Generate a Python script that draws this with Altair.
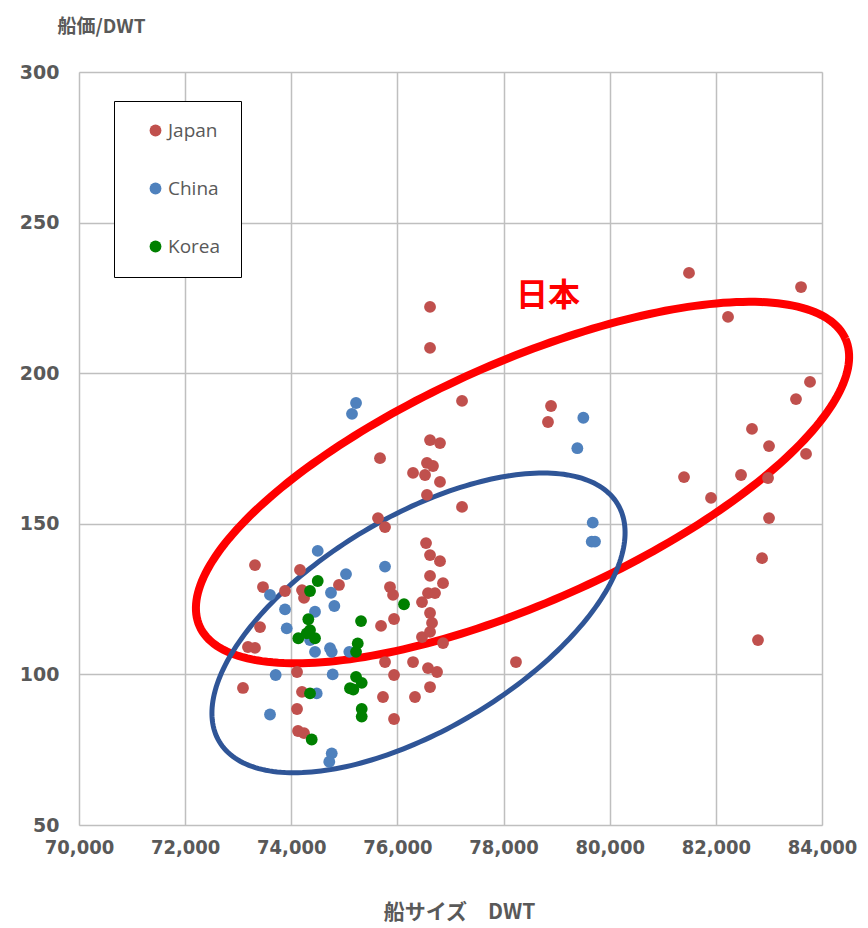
import altair as alt
import numpy as np
import pandas as pd

# ---------------- data ----------------
japan_x = [83605, 81494, 82229, 83774, 83510, 82681, 83002, 82474, 81400, 82983,
           83699, 81909, 83002, 82870, 82794, 76614, 76614, 77217, 78894, 78837,
           78234, 77217, 75672, 76614, 76802, 76294, 76557, 76670, 76520, 76802,
           76557, 75634, 75766, 76539, 76614, 76802, 76614, 76859, 76576, 76708,
           76463, 76614, 76652, 76463, 76614, 76859, 76294, 76576, 76746, 76614,
           76331, 75860, 75917, 75691, 75936, 75766, 75936, 75728, 75936, 73316,
           73467, 73411, 73184, 73316, 73090, 74164, 73882, 74202, 74240, 74899,
           74108, 74202, 74108, 74127, 74240]
japan_y = [228.6, 233.3, 218.7, 197.1, 191.4, 181.5, 175.8, 166.2, 165.5, 165.2,
           173.2, 158.6, 151.9, 138.6, 111.4, 222.0, 208.4, 190.8, 189.1, 183.8,
           104.1, 155.6, 171.8, 177.8, 176.8, 166.9, 170.2, 169.2, 166.2, 163.9,
           159.6, 151.9, 148.9, 143.6, 139.6, 137.6, 132.7, 130.3, 127.0, 127.0,
           124.0, 120.4, 117.1, 112.4, 114.1, 110.4, 104.1, 102.1, 100.8, 95.8,
           92.5, 129.0, 126.4, 116.1, 118.4, 104.1, 99.8, 92.5, 85.2, 136.3,
           129.0, 115.7, 109.1, 108.8, 95.5, 134.7, 127.7, 128.0, 125.4, 129.7,
           100.8, 94.2, 88.5, 81.2, 80.5]

china_x = [74498, 75766, 75031, 73599, 74748, 73882, 74447, 74811, 73914, 74353,
           74447, 74730, 74762, 75093, 73706, 74780, 74479, 73599, 74762, 74716,
           75144, 75220, 79503, 79390, 79680, 79661, 79723]
china_y = [141.0, 135.8, 133.3, 126.4, 127.1, 121.6, 120.8, 122.7, 115.3, 111.4,
           107.5, 108.7, 107.5, 107.5, 99.8, 100.0, 93.7, 86.7, 73.8, 71.0,
           186.5, 190.1, 185.2, 175.1, 150.4, 144.1, 144.1]

korea_x = [74498, 74353, 74321, 75314, 76124, 74132, 74353, 74447, 74291, 75252,
           75220, 75220, 75327, 75106, 75169, 74353, 75327, 75327, 74385]
korea_y = [131.0, 127.7, 118.3, 117.7, 123.3, 112.0, 114.7, 112.0, 113.6, 110.3,
           107.5, 99.2, 97.2, 95.4, 95.0, 93.7, 88.5, 86.0, 78.4]

series = ["Japan", "China", "Korea"]
series_colors = ["#C0504D", "#4F81BD", "#008000"]

x_ticks = [70000, 72000, 74000, 76000, 78000, 80000, 82000, 84000]
y_ticks = [50, 100, 150, 200, 250, 300]

# hand-drawn ellipses: centre, semi-major vector, semi-minor vector (data units)
red_ellipse = {"cx": 78357, "cy": 163.7, "ux": 6085, "uy": 47.7, "vx": -920, "vy": 36.4}
blue_ellipse = {"cx": 76397, "cy": 117.1, "ux": 3754, "uy": 39.4, "vx": -1029, "vy": 30.4}

label_text = "日本"
label_x = 78837
label_y = 225.6

# ---------------- build tables ----------------
pts = pd.concat([
    pd.DataFrame({"x": japan_x, "y": japan_y, "s": "Japan"}),
    pd.DataFrame({"x": china_x, "y": china_y, "s": "China"}),
    pd.DataFrame({"x": korea_x, "y": korea_y, "s": "Korea"}),
], ignore_index=True)


def ellipse_df(p):
    t = np.linspace(0, 2 * np.pi, 241)
    return pd.DataFrame({
        "x": p["cx"] + p["ux"] * np.cos(t) + p["vx"] * np.sin(t),
        "y": p["cy"] + p["uy"] * np.cos(t) + p["vy"] * np.sin(t),
        "i": np.arange(len(t)),
    })


GREY = "#595959"
xscale = alt.Scale(domain=[70000, 84000], nice=False, zero=False)
yscale = alt.Scale(domain=[50, 300], nice=False, zero=False)

xaxis = alt.Axis(values=x_ticks, format=",.0f", formatType="number", title="船サイズ\u3000DWT",
                 labelFont="DejaVu Sans Condensed, DejaVu Sans", labelFontSize=20,
                 labelFontWeight="bold", labelColor=GREY, labelPadding=12,
                 labelFlush=False, labelBound=False, labelOverlap=False,
                 titleFont="Noto Sans CJK JP", titleFontSize=21, titleFontWeight="bold",
                 titleColor=GREY, titleX=380, titleY=87, titleAlign="center",
                 titleBaseline="middle",
                 grid=True, gridColor="#BFBFBF", gridWidth=1.5, ticks=False, domain=False)
yaxis = alt.Axis(values=y_ticks, title="船価/DWT",
                 labelFont="DejaVu Sans", labelFontSize=19,
                 labelFontWeight="bold", labelColor=GREY, labelPadding=20,
                 labelFlush=False, labelBound=False, labelOverlap=False,
                 titleFont="Noto Sans CJK JP", titleFontSize=19, titleFontWeight="bold",
                 titleColor=GREY, titleAngle=0, titleAlign="left", titleBaseline="alphabetic",
                 titleX=-22, titleY=-40,
                 grid=True, gridColor="#BFBFBF", gridWidth=1.5, ticks=False, domain=False)

X = alt.X("x:Q", scale=xscale, axis=xaxis)
Y = alt.Y("y:Q", scale=yscale, axis=yaxis)

red_line = alt.Chart(ellipse_df(red_ellipse)).mark_line(
    color="#FF0000", strokeWidth=8, clip=False
).encode(x=X, y=Y, order="i:Q")

blue_line = alt.Chart(ellipse_df(blue_ellipse)).mark_line(
    color="#2F5597", strokeWidth=5, clip=False
).encode(x=X, y=Y, order="i:Q")

points = alt.Chart(pts).mark_circle(size=140, opacity=1).encode(
    x=X, y=Y,
    color=alt.Color("s:N", scale=alt.Scale(domain=series, range=series_colors),
                    sort=series,
                    legend=alt.Legend(title=None, orient="none", legendX=35, legendY=29,
                                      strokeColor="black", fillColor="white",
                                      padding=20, rowPadding=38, symbolSize=140,
                                      symbolType="circle", symbolOffset=12, labelOffset=3,
                                      labelFont="Open Sans", labelFontSize=19,
                                      labelColor=GREY)),
    order=alt.Order("ord:Q"),
).transform_calculate(
    ord="datum.s === 'Japan' ? 0 : (datum.s === 'China' ? 1 : 2)"
)

label = alt.Chart(pd.DataFrame({"x": [label_x], "y": [label_y], "t": [label_text]})).mark_text(
    color="#FF0000", font="Noto Sans CJK JP", fontSize=32, fontWeight="bold"
).encode(x=X, y=Y, text="t:N")

chart = alt.layer(red_line, blue_line, points, label).properties(
    width=743, height=753,
    autosize=alt.AutoSizeParams(type="none"),
    padding={"left": 71, "top": 64, "right": 38, "bottom": 102},
).configure_view(
    stroke="black", strokeWidth=2
).configure(background="white")

chart.save("out.html", embed_options={"renderer": "svg", "actions": False})
